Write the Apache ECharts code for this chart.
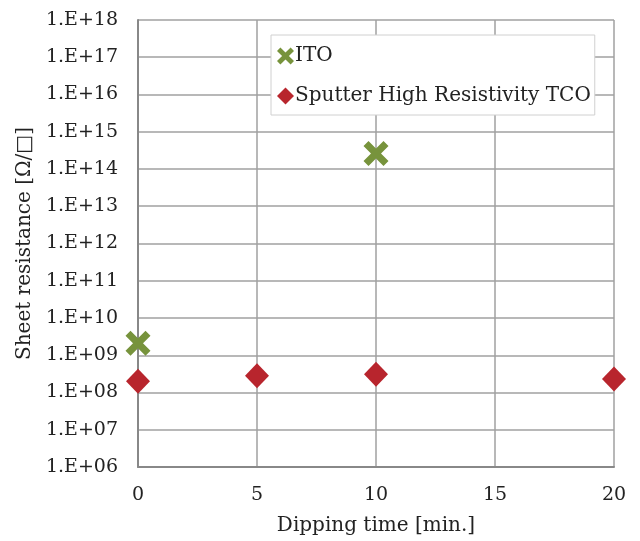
<!DOCTYPE html>
<html>
<head>
<meta charset="utf-8">
<script src="https://cdn.jsdelivr.net/npm/echarts@6/dist/echarts.min.js"></script>
<style>html,body{margin:0;padding:0;background:#fff}#c{width:640px;height:541px}</style>
</head>
<body>
<div id="c"></div>
<script>
var seriesNames = ['ITO', 'Sputter High Resistivity TCO'];
var itoTime = [0, 10];
var itoValues = [2.1e9, 2.6e14];
var tcoTime = [0, 5, 10, 20];
var tcoValues = [2.0e8, 2.8e8, 3.1e8, 2.3e8];
var xTicks = [0, 5, 10, 15, 20];
var yMinExp = 6, yMaxExp = 18;

var FONT = 'DejaVu Serif';
var crossPath = 'path://M0,4 L4,0 L10,6 L16,0 L20,4 L14,10 L20,16 L16,20 L10,14 L4,20 L0,16 L6,10 Z';
var GREEN = '#77933C', RED = '#B8252D';

function pair(xs, ys){ return xs.map(function(x,i){ return [x, ys[i]]; }); }

var chart = echarts.init(document.getElementById('c'), null, {renderer:'canvas'});
chart.setOption({
  animation: false,
  backgroundColor: '#fff',
  grid: {left: 138, right: 26, top: 20, bottom: 72, containLabel: false},
  legend: {
    orient: 'vertical', left: 271, top: 35,
    backgroundColor: '#fff', borderColor: '#d0d0d0', borderWidth: 1,
    padding: [11, 4, 9, 6], itemGap: 20, itemWidth: 17, itemHeight: 17,
    textStyle: {fontFamily: FONT, fontSize: 20, color: '#222', padding: [0,0,0,-4]},
    data: [
      {name: seriesNames[0], icon: crossPath},
      {name: seriesNames[1], icon: 'diamond', itemStyle: {color: RED}}
    ]
  },
  xAxis: {
    type: 'value', min: xTicks[0], max: xTicks[xTicks.length-1], interval: 5,
    name: 'Dipping time [min.]', nameLocation: 'middle', nameGap: 49,
    nameTextStyle: {fontFamily: FONT, fontSize: 20, color: '#222'},
    axisLine: {show: true, lineStyle: {color: '#888', width: 2}},
    axisTick: {show: false},
    axisLabel: {fontFamily: FONT, fontSize: 19, color: '#222', margin: 19},
    splitLine: {show: true, lineStyle: {color: '#a0a0a0', width: 1.5}}
  },
  yAxis: {
    type: 'log', logBase: 10, min: Math.pow(10, yMinExp), max: Math.pow(10, yMaxExp), interval: 1,
    name: 'Sheet resistance [Ω/□]', nameLocation: 'middle', nameGap: 102,
    nameTextStyle: {fontFamily: FONT, fontSize: 20, color: '#222'},
    axisLine: {show: true, lineStyle: {color: '#888', width: 2}},
    axisTick: {show: false},
    axisLabel: {fontFamily: FONT, fontSize: 19, color: '#222', margin: 20,
      formatter: function(v){ var e = Math.round(Math.log10(v)); return '1.E+' + (e < 10 ? '0' + e : e); }},
    splitLine: {show: true, lineStyle: {color: '#a0a0a0', width: 1.5}}
  },
  series: [
    {name: seriesNames[0], type: 'scatter', symbol: crossPath, symbolSize: 25,
     itemStyle: {color: GREEN, opacity: 1}, data: pair(itoTime, itoValues), z: 3},
    {name: seriesNames[1], type: 'scatter', symbol: 'diamond', symbolSize: [24, 25],
     itemStyle: {color: RED, opacity: 1}, data: pair(tcoTime, tcoValues), z: 2}
  ]
});
</script>
</body>
</html>
